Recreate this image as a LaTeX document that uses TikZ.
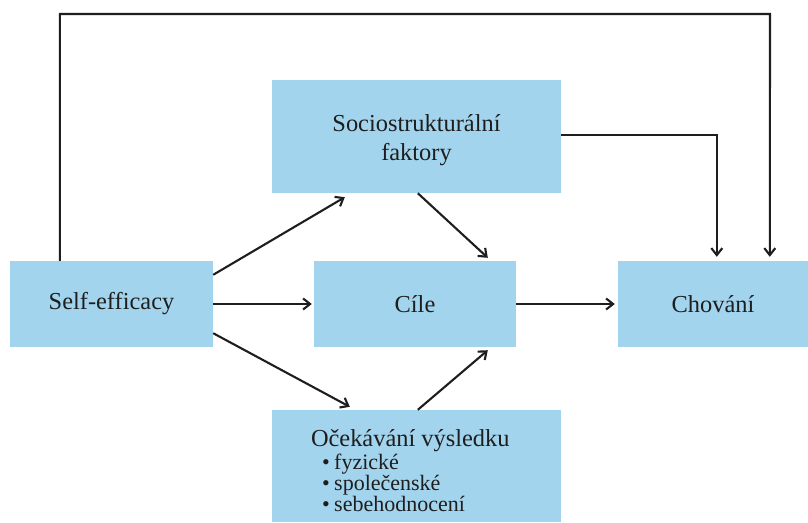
\documentclass[tikz,border=0pt]{standalone}
\usepackage{fontspec}
\setmainfont{Liberation Serif}
\usetikzlibrary{arrows.meta}
\definecolor{boxblue}{RGB}{163,212,237}
\definecolor{ink}{RGB}{30,30,30}
% stacked lines with fixed baselines; #1 = declared height, #2 = declared depth
\newcommand{\linestack}[3]{\raisebox{0pt}[#1][#2]{\vtop{\lineskiplimit=-100pt #3}}}
\newcommand{\bulletline}[1]{\hbox{\hspace{11pt}•\hspace{4.5pt}#1}}
\begin{document}
\begin{tikzpicture}[x=1pt,y=-1pt,
  box/.style={fill=boxblue,draw=none,inner sep=0pt,text=ink,
    font=\fontsize{24.4}{29}\selectfont},
  link/.style={draw=ink,line width=2.1pt,-{Straight Barb[length=7pt,width=11pt,line width=2.1pt]}}]
\useasboundingbox[fill=white] (0,0) rectangle (808,522);

% boxes
\node[box,minimum width=203pt,minimum height=86pt] (self) at (111.5,304) {Self-efficacy};
\node[box,minimum width=289pt,minimum height=113pt] (socio) at (416.5,136.5) {%
  \linestack{20pt}{31pt}{\baselineskip=29pt
    \hbox to 200pt{\hfil Sociostrukturální\hfil}
    \hbox to 200pt{\hfil faktory\hfil}}};
\node[box,minimum width=202pt,minimum height=86pt] (cile) at (415,304) {Cíle};
\node[box,minimum width=190pt,minimum height=86pt] (chov) at (713,304) {Chování};
\node[box,minimum width=289pt,minimum height=112pt] (ocek) at (416.5,466) {%
  \linestack{20pt}{60pt}{%
    \hbox to 211pt{Očekávání výsledku\hfil}
    \fontsize{22}{21}\selectfont\baselineskip=23pt
    \bulletline{fyzické}
    \baselineskip=21pt
    \bulletline{společenské}
    \bulletline{sebehodnocení}}};

% connectors
\coordinate (topright) at (770,14);
\draw[link] ([yshift=-14pt]self.north east) -- ([xshift=73pt,yshift=-4pt]socio.south west);
\draw[link] (self.east) -- ([xshift=-2pt]cile.west);
\draw[link] ([yshift=14pt]self.south east) -- ([xshift=78pt,yshift=3pt]ocek.north west);
\draw[link] ([xshift=146pt]socio.south west) -- ([xshift=174pt,yshift=3pt]cile.north west);
\draw[link] ([xshift=146pt]ocek.north west) -- ([xshift=174pt,yshift=-3pt]cile.south west);
\draw[link] (cile.east) -- ([xshift=-3pt]chov.west);
\draw[link] ([yshift=1.5pt]socio.east) -| ([xshift=99pt,yshift=4pt]chov.north west);
\draw[link] ([xshift=50pt]self.north west) |- (topright) -- ([xshift=152pt,yshift=4pt]chov.north west);
\end{tikzpicture}
\end{document}
